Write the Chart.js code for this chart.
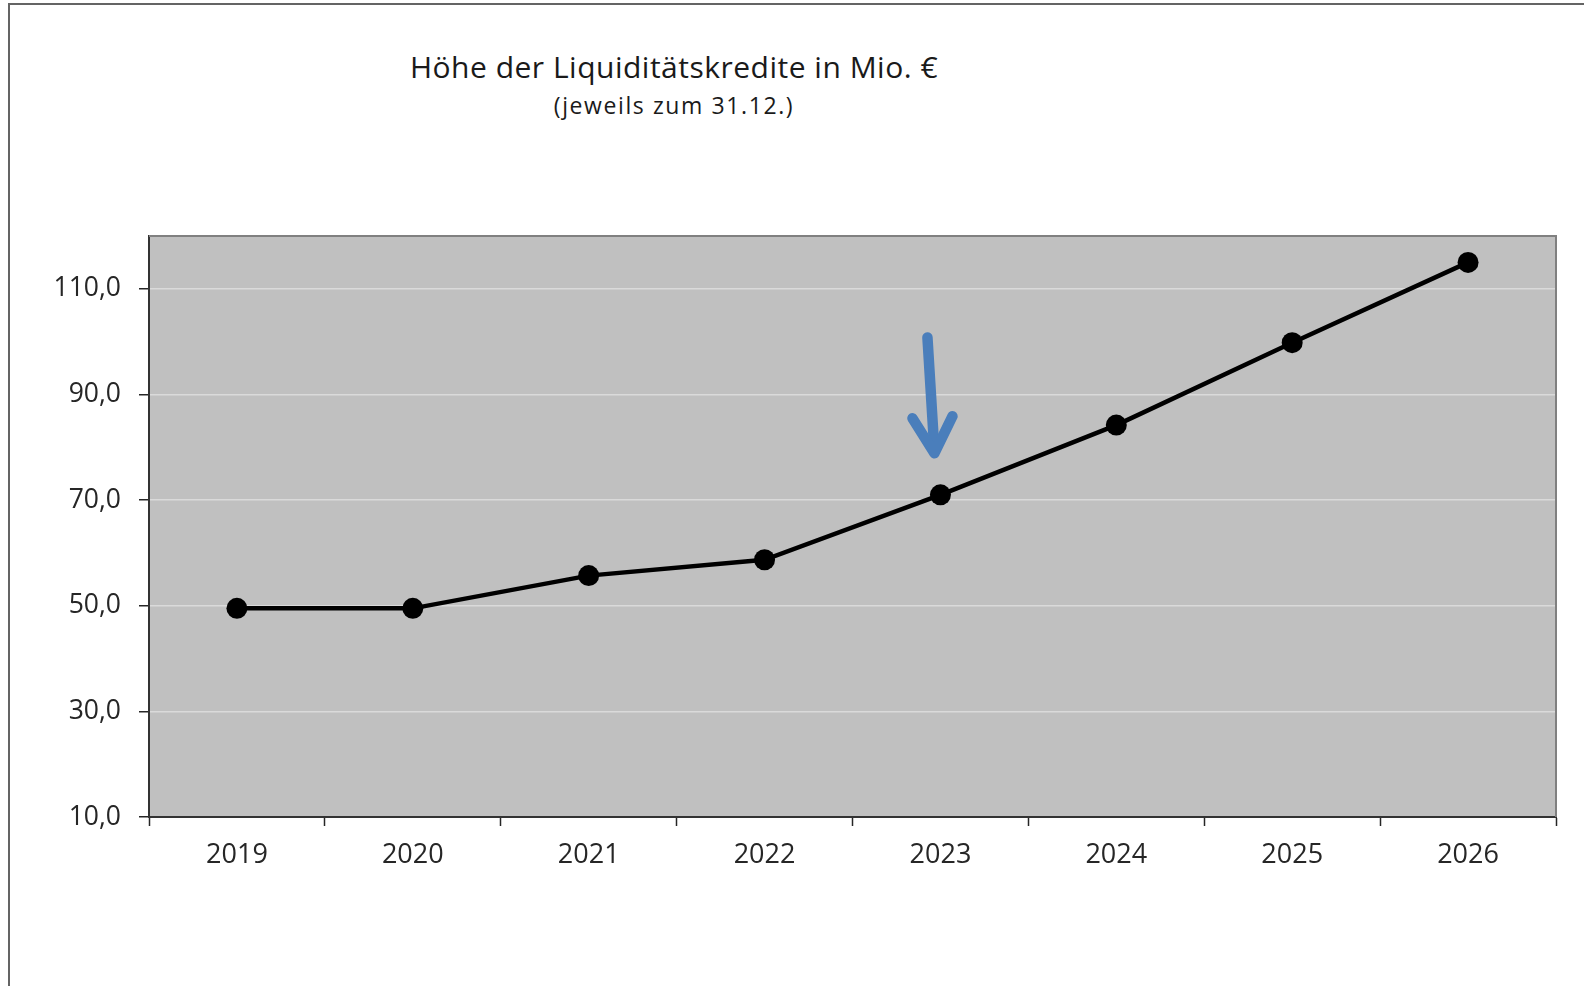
<!DOCTYPE html>
<html lang="de">
<head>
<meta charset="UTF-8">
<title>Höhe der Liquiditätskredite</title>
<script src="https://cdn.jsdelivr.net/npm/chart.js"></script>
<style>
  body { margin: 0; background: #fff; overflow: hidden; }
  #wrap { position: relative; width: 1584px; height: 986px; }
  #frame {
    position: absolute; left: 8px; top: 3px; width: 1600px; height: 1000px;
    border-left: 2px solid #646464; border-top: 2px solid #646464;
  }
  .title {
    position: absolute; left: 0; width: 1348px; text-align: center;
    font-family: "Open Sans", sans-serif; color: #1a1a1a;
  }
  #t1 { top: 47px; font-size: 30px; line-height: 40px; letter-spacing: 0.5px; }
  #t2 { top: 90px; font-size: 23px; line-height: 30px; letter-spacing: 1.6px; }
  canvas { position: absolute; left: 0; top: 0; }
</style>
</head>
<body>
<div id="wrap">
  <div id="frame"></div>
  <div class="title" id="t1">Höhe der Liquiditätskredite in Mio. €</div>
  <div class="title" id="t2">(jeweils zum 31.12.)</div>
  <canvas id="chart" width="1584" height="986"></canvas>
</div>
<script>
// data
var years = ["2019", "2020", "2021", "2022", "2023", "2024", "2025", "2026"];
var kredite = [49.5, 49.5, 55.7, 58.7, 71.0, 84.2, 99.8, 115.0];
var yTicks = [10, 30, 50, 70, 90, 110];
var yMin = 10;
var yMax = 120;

// arrow pointing at 2023 (value coords)
var arrowIndex = 4;
var arrowTail = 100.8;
var arrowTip = 78.1;

// grey plot background
var plotBackground = {
  id: "plotBackground",
  beforeDraw: function(chart) {
    var a = chart.chartArea, ctx = chart.ctx;
    ctx.save();
    ctx.fillStyle = "#c0c0c0";
    ctx.fillRect(a.left, a.top, a.right - a.left, a.bottom - a.top);
    ctx.restore();
  }
};

// top + right frame of the plot and the blue arrow
var extras = {
  id: "extras",
  afterDraw: function(chart) {
    var a = chart.chartArea, ctx = chart.ctx;
    ctx.save();
    ctx.strokeStyle = "#808080";
    ctx.lineWidth = 2;
    ctx.beginPath();
    ctx.moveTo(a.left, a.top);
    ctx.lineTo(a.right, a.top);
    ctx.lineTo(a.right, a.bottom);
    ctx.stroke();

    var xs = chart.scales.x, ys = chart.scales.y;
    var cx = xs.getPixelForValue(arrowIndex);
    var tipX = cx - 6, tipY = ys.getPixelForValue(arrowTip);
    var tailX = cx - 13, tailY = ys.getPixelForValue(arrowTail);
    ctx.strokeStyle = "#4a7ebb";
    ctx.lineWidth = 10.5;
    ctx.lineCap = "round";
    ctx.lineJoin = "round";
    ctx.beginPath();
    ctx.moveTo(tailX, tailY);
    ctx.lineTo(tipX, tipY - 6);
    ctx.stroke();
    ctx.beginPath();
    ctx.moveTo(tipX - 22, tipY - 39);
    ctx.lineTo(tipX, tipY - 4);
    ctx.lineTo(tipX + 18, tipY - 41);
    ctx.stroke();
    ctx.restore();
  }
};

var ctx = document.getElementById("chart").getContext("2d");
var myChart = new Chart(ctx, {
  type: "line",
  data: {
    labels: years,
    datasets: [{
      data: kredite,
      borderColor: "#000",
      borderWidth: 4.5,
      pointRadius: 10.5,
      pointHoverRadius: 10.5,
      pointBackgroundColor: "#000",
      pointBorderWidth: 0,
      tension: 0,
      clip: false
    }]
  },
  options: {
    responsive: false,
    animation: false,
    devicePixelRatio: 1,
    layout: { padding: { left: 0, top: 236, right: 28, bottom: 0 } },
    plugins: {
      legend: { display: false },
      title: { display: false },
      tooltip: { enabled: false }
    },
    scales: {
      x: {
        type: "category",
        offset: true,
        grid: {
          offset: true,
          drawOnChartArea: false,
          tickLength: 9,
          tickColor: "#262626",
          tickWidth: 1.5
        },
        border: { display: true, color: "#333", width: 2 },
        ticks: {
          color: "#262626",
          padding: 13,
          maxRotation: 0,
          font: { family: "Open Sans", size: 27 }
        },
        afterFit: function(scale) { scale.height = 169; }
      },
      y: {
        min: yMin,
        max: yMax,
        grid: {
          color: "#dadada",
          lineWidth: 1.5,
          tickLength: 10,
          tickColor: "#262626",
          tickWidth: 1.5
        },
        border: { display: true, color: "#333", width: 2 },
        ticks: {
          color: "#262626",
          padding: 18,
          font: { family: "Open Sans", size: 26.5 },
          callback: function(v) { return v.toFixed(1).replace(".", ","); }
        },
        afterBuildTicks: function(scale) {
          scale.ticks = yTicks.map(function(v) { return { value: v }; });
        },
        afterFit: function(scale) { scale.width = 149; }
      }
    }
  },
  plugins: [plotBackground, extras]
});
</script>
</body>
</html>
